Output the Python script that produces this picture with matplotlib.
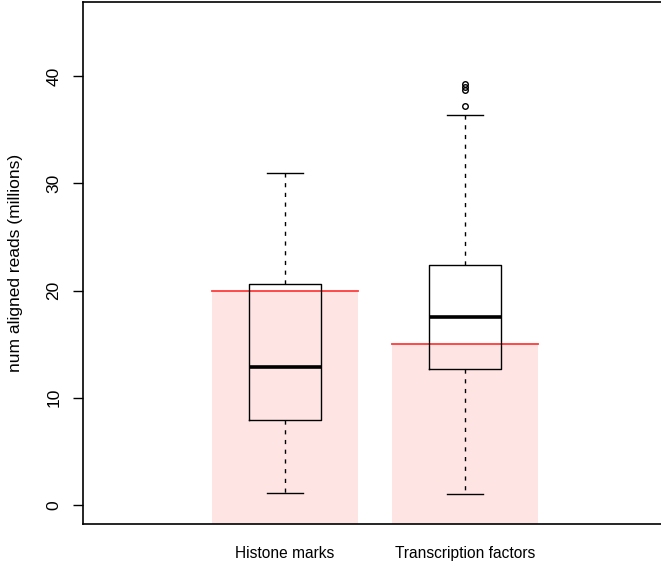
import matplotlib.pyplot as plt

plt.rcParams['font.family'] = ['Liberation Sans', 'DejaVu Sans']

# data (millions of reads)
categories = ['Histone marks', 'Transcription factors']
whisker_low = [1.1, 1.0]
q1 = [7.95, 12.7]
medians = [12.9, 17.5]
q3 = [20.6, 22.4]
whisker_high = [31.0, 36.4]
outliers = [[], [39.3, 39.0, 38.7, 37.2]]
thresholds = [20.0, 15.0]

positions = [1, 2]
ymin, ymax = -1.77, 46.9

fig = plt.figure(figsize=(6.61, 5.61), dpi=100)
ax = fig.add_axes([83 / 661, 1 - 524 / 561, 1.005 - 83 / 661, (524 - 2) / 561])

# pink background bars with red line at the recommended depth
for p, t in zip(positions, thresholds):
    ax.bar(p, t - ymin, bottom=ymin, width=0.81, color='#ffe4e4', zorder=0)
    ax.plot([p - 0.405, p + 0.405], [t, t], color='#ff3b3b', lw=1.3, zorder=1)

stats = []
for i, name in enumerate(categories):
    stats.append(dict(label=name, whislo=whisker_low[i], q1=q1[i], med=medians[i],
                      q3=q3[i], whishi=whisker_high[i], fliers=outliers[i]))

ax.bxp(stats, positions=positions, widths=0.4, capwidths=0.2, patch_artist=False,
       boxprops=dict(color='black', lw=1.0),
       whiskerprops=dict(color='black', lw=1.0, linestyle=(0, (3, 4))),
       capprops=dict(color='black', lw=1.0),
       medianprops=dict(color='black', lw=2.6),
       flierprops=dict(marker='o', markersize=4, markerfacecolor='none',
                       markeredgecolor='black', markeredgewidth=1.0),
       zorder=3)

ax.set_xlim(1 - 202 / 180, 1 - 202 / 180 + (1.005 * 661 - 83) / 180)
ax.set_ylim(ymin, ymax)

ax.set_yticks([0, 10, 20, 30, 40])
ax.set_yticklabels(['0', '10', '20', '30', '40'], rotation=90, va='center', fontsize=12.5)
ax.tick_params(axis='y', length=7.5, width=1, pad=8)
ax.set_xticks(positions)
ax.set_xticklabels(categories, fontsize=11.2)
ax.tick_params(axis='x', length=0, pad=16)
ax.set_ylabel('num aligned reads (millions)', fontsize=12.5)
ax.yaxis.set_label_coords(-0.104, 0.5)

for s in ax.spines.values():
    s.set_linewidth(1.2)

fig.savefig('out.png', dpi=100)
